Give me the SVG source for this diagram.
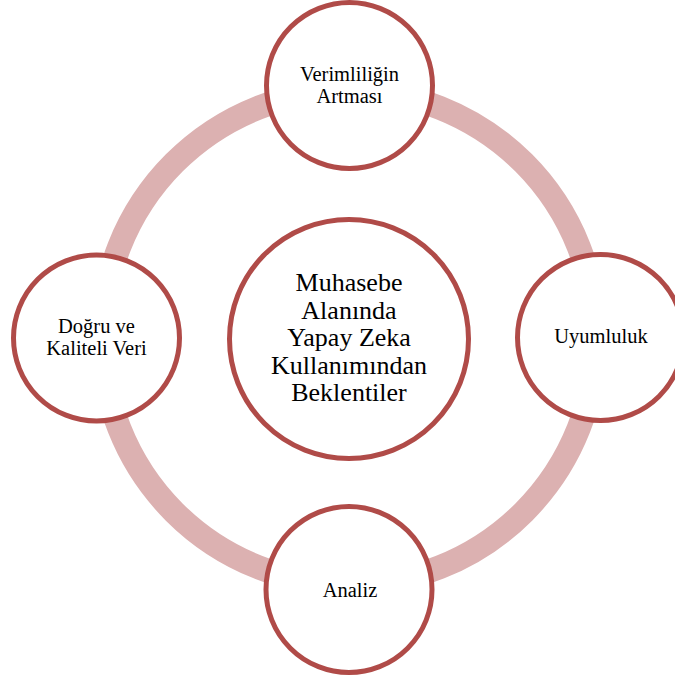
<svg xmlns="http://www.w3.org/2000/svg" width="675" height="679" viewBox="0 0 675 679">
<style>
.node circle{fill:#ffffff;stroke:#B04B48;stroke-width:5}
.ring{fill:none;stroke:#DCB1B1;stroke-width:24}
text{font-family:"Liberation Serif","Times New Roman",serif;fill:#000;text-anchor:middle}
.s{font-size:20.5px}
.l{font-size:26px}
</style>
<rect width="675" height="679" fill="#ffffff"/>
<g id="connectors">
<circle class="ring" cx="349" cy="337.5" r="247"/>
</g>
<g id="center" class="node">
<circle cx="349" cy="339" r="119.5"/>
<text class="l"><tspan x="349" y="291">Muhasebe</tspan><tspan x="349" y="318.5">Alanında</tspan><tspan x="349" y="346">Yapay Zeka</tspan><tspan x="349" y="373.5">Kullanımından</tspan><tspan x="349" y="401">Beklentiler</tspan></text>
</g>
<g id="top" class="node">
<circle cx="349.5" cy="85.5" r="83"/>
<text class="s"><tspan x="349.5" y="80.5">Verimliliğin</tspan><tspan x="349.5" y="102.5">Artması</tspan></text>
</g>
<g id="right" class="node">
<circle cx="600.5" cy="337.5" r="83"/>
<text class="s" x="601" y="343">Uyumluluk</text>
</g>
<g id="bottom" class="node">
<circle cx="349" cy="589.5" r="83"/>
<text class="s" x="350" y="597">Analiz</text>
</g>
<g id="left" class="node">
<circle cx="96.5" cy="338" r="83"/>
<text class="s"><tspan x="96.5" y="333">Doğru ve</tspan><tspan x="96.5" y="355">Kaliteli Veri</tspan></text>
</g>
</svg>
